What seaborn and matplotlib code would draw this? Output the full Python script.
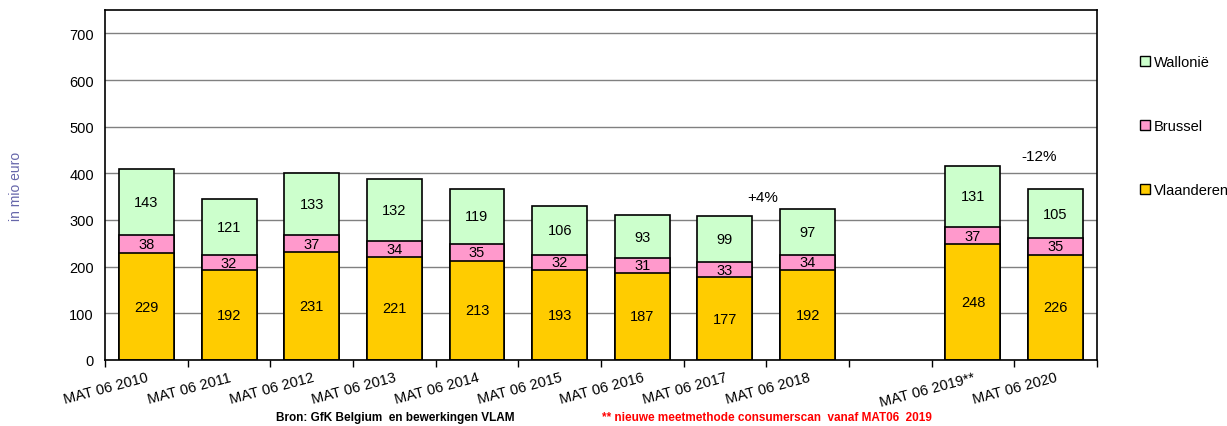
import numpy as np
import pandas as pd
import matplotlib
matplotlib.use("Agg")
import matplotlib.pyplot as plt
import seaborn as sns
from matplotlib.patches import Patch

periods = ["MAT 06 2010", "MAT 06 2011", "MAT 06 2012", "MAT 06 2013", "MAT 06 2014",
           "MAT 06 2015", "MAT 06 2016", "MAT 06 2017", "MAT 06 2018", " ",
           "MAT 06 2019**", "MAT 06 2020"]
vlaanderen = [229, 192, 231, 221, 213, 193, 187, 177, 192, np.nan, 248, 226]
brussel = [38, 32, 37, 34, 35, 32, 31, 33, 34, np.nan, 37, 35]
wallonie = [143, 121, 133, 132, 119, 106, 93, 99, 97, np.nan, 131, 105]
tick_labels = ["MAT 06 2010", "MAT 06 2011", "MAT 06 2012", "MAT 06 2013", "MAT 06 2014",
               "MAT 06 2015", "MAT 06 2016", "MAT 06 2017", "MAT 06 2018", "",
               "MAT 06 2019**", "MAT 06 2020"]

df = pd.DataFrame({"periode": periods, "Vlaanderen": vlaanderen,
                   "Brussel": brussel, "Wallonië": wallonie})
df["vb"] = df["Vlaanderen"] + df["Brussel"]
df["totaal"] = df["vb"] + df["Wallonië"]

sns.set_style("white")
plt.rcParams["font.family"] = ["Liberation Sans", "DejaVu Sans"]
plt.rcParams["text.color"] = "black"
plt.rcParams["xtick.color"] = "black"
plt.rcParams["ytick.color"] = "black"

c_vl, c_br, c_wa = "#FFCC00", "#FF99CC", "#CCFFCC"

fig = plt.figure(figsize=(12.27, 4.27), dpi=100)
ax = fig.add_axes([0.0856, 0.1546, 0.8084, 0.8196])
ax.set_axisbelow(True)
ax.yaxis.grid(True, color="#808080", linewidth=1)

kw = dict(x="periode", order=periods, width=0.665, edgecolor="black",
          linewidth=1.2, ax=ax, errorbar=None)
sns.barplot(data=df, y="totaal", color=c_wa, saturation=1, **kw)
sns.barplot(data=df, y="vb", color=c_br, saturation=1, **kw)
sns.barplot(data=df, y="Vlaanderen", color=c_vl, saturation=1, **kw)

for i in range(len(periods)):
    if np.isnan(vlaanderen[i]):
        continue
    v, b, w = vlaanderen[i], brussel[i], wallonie[i]
    ax.text(i, v / 2, f"{v:.0f}", ha="center", va="center", fontsize=10.5)
    ax.text(i, v + b / 2, f"{b:.0f}", ha="center", va="center", fontsize=10.5)
    ax.text(i, v + b + w / 2, f"{w:.0f}", ha="center", va="center", fontsize=10.5)

ax.text(7.46, 349, "+4%", ha="center", va="center", fontsize=11)
ax.text(10.8, 437, "-12%", ha="center", va="center", fontsize=11)

ax.set_ylim(0, 750)
ax.set_xlim(-0.5, len(periods) - 0.5)
ax.set_yticks(range(0, 701, 100))
ax.tick_params(axis="y", labelsize=10.5, length=0, pad=8)

n = len(periods)
ax.set_xticks(np.arange(n + 1) - 0.5)
ax.set_xticklabels([])
ax.tick_params(axis="x", which="major", direction="out", length=5, width=1, color="black", bottom=True)
ax.set_xticks(np.arange(n), minor=True)
ax.set_xticklabels(tick_labels, minor=True, rotation=15, ha="right",
                   rotation_mode="anchor", fontsize=10.5)
ax.tick_params(axis="x", which="minor", length=0, pad=7)

ax.set_xlabel("")
ax.set_ylabel("in mio euro", color="#6666AA", fontsize=10, labelpad=33)

for s in ax.spines.values():
    s.set_color("black")
    s.set_linewidth(1.2)

handles = [Patch(facecolor=c_wa, edgecolor="black", label="Wallonië"),
           Patch(facecolor=c_br, edgecolor="black", label="Brussel"),
           Patch(facecolor=c_vl, edgecolor="black", label="Vlaanderen")]
fig.legend(handles=handles, loc="upper left", bbox_to_anchor=(0.918, 0.90),
           frameon=False, fontsize=10.5, labelspacing=3.45,
           handlelength=0.7, handleheight=0.7, handletextpad=0.3)

fig.text(0.322, 0.006, "Bron: GfK Belgium  en bewerkingen VLAM", ha="center",
         va="bottom", fontsize=8.5, fontweight="bold")
fig.text(0.625, 0.006, "** nieuwe meetmethode consumerscan  vanaf MAT06  2019",
         ha="center", va="bottom", fontsize=8.5, fontweight="bold", color="red")

fig.savefig("out.png", dpi=100)
